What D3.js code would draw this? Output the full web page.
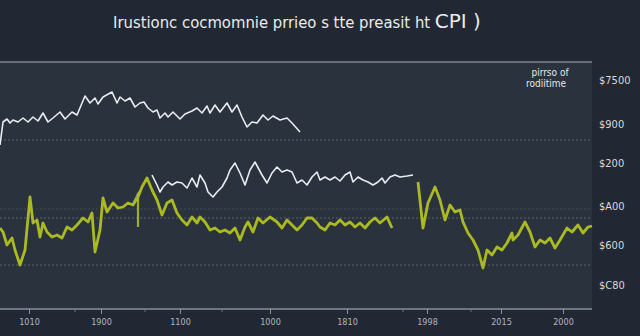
<!DOCTYPE html>
<html><head><meta charset="utf-8">
<script src="https://cdn.jsdelivr.net/npm/d3@7/dist/d3.min.js"></script>
<style>html,body{margin:0;padding:0;background:#212833;}svg{display:block}</style>
</head><body><svg id="c" width="640" height="336"></svg>
<script>
const titleMain = "Irustionc cocmomnie prrieo s tte preasit ht ";
const titleTail = "CPI )";
const legendLines = ["pirrso of", "rodiitime"];
const yTickValues = [230, 186, 147, 104, 65, 25];
const yTickLabels = ["$7500", "$900", "$200", "$A00", "$600", "$C80"];
const xTickValues = [14.5, 50.5, 90, 135, 173.5, 213.5, 250.5, 281.5];
const xTickLabels = ["1010", "1900", "1100", "1000", "1810", "1998", "2015", "2000"];
const xMinorTicks = [37.5, 72.5, 111, 201.5, 235.5];
const gridValues = [170, 101, 92, 45];

const whiteUpper = [[0,165],[1.5,188],[3.5,191],[5,187],[6.5,190],[9,188],[11.5,192],[14,188],[16.5,193],[19,189],[21.5,197],[24,188],[26.5,192],[30,198],[32.5,191],[36,198],[38.5,195],[42.5,214],[45,207],[47.5,212],[49,206],[51.5,213],[56,218],[58.5,207],[60,213],[62.5,209],[65,212],[67.5,203],[70,207],[72,208],[74,202],[76.5,198],[78.5,200],[80,192],[82.5,197],[84,193],[86.5,198],[90,191],[92.5,196],[96,199],[98.5,202],[101,197],[103.5,204],[105,197],[107.5,205],[110,198],[113.5,207],[116,198],[118.5,205],[121,193],[123.5,183],[126,188],[128.5,187],[131.5,195],[134,190],[136.5,194],[140,190],[143.5,192],[146,187],[150,178]];
const whiteMiddle = [[76,135],[78.5,125],[80,118],[81.5,123],[84,128],[86,125],[88.5,128],[91,127],[93.5,122],[96,132],[98.5,123],[100,135],[102.5,127],[104,118],[106.5,113],[108.5,118],[111,123],[113.5,132],[115,140],[117.5,147],[120,137],[122.5,125],[125,140],[127.5,148],[131,135],[133.5,127],[136,137],[138.5,143],[141,138],[143.5,140],[146,138],[148.5,127],[151,130],[153.5,125],[156,133],[158.5,138],[160,130],[162.5,133],[165,130],[167.5,133],[170,129],[172.5,135],[175,138],[176.5,128],[179,133],[181.5,130],[184,128],[186.5,125],[189,128],[191,132],[192.5,127],[195,133],[197.5,135],[200,133],[203.5,134],[206.5,135]];
const whiteFragment = [[66.5,107],[69,117],[71,122]];
const greenA = [[0,82],[1.5,78],[3.5,65],[6,72],[7.5,60],[10,45],[12.5,60],[15,113],[16.5,87],[18.5,90],[20,73],[21.5,87],[23.5,78],[26,73],[28.5,75],[31,72],[33.5,83],[36,80],[38.5,85],[41.5,92],[44,88],[46,97],[47.5,58],[50,80],[51.5,112],[53.5,98],[56.5,107],[59,102],[61.5,103],[64,107],[66.5,105],[69,113],[71,123],[73.5,132],[76,120],[78.5,110],[81,95],[83.5,107],[86,110],[88.5,97],[91,90],[93.5,85],[96,93],[98.5,87],[100,93],[102.5,88],[105,80],[107.5,82],[110,78],[112.5,80],[115,77],[117.5,82],[120,70],[122.5,83],[124,88],[126.5,78],[129,92],[131.5,87],[135,93],[138.5,88],[141,82],[143.5,90],[146,85],[148.5,80],[151,85],[153.5,92],[156,92],[158.5,87],[160,83],[162.5,80],[165,87],[167.5,85],[170,90],[172.5,85],[175,88],[177.5,83],[180,87],[182.5,82],[185,88],[187.5,92],[190,87],[193.5,93],[196,82]];
const greenStroke = [[69,117],[69,83]];
const greenB = [[209,128],[211.5,82],[214,107],[217.5,123],[220,110],[222.5,90],[225,105],[227.5,98],[230,100],[231.5,88],[234,77],[236.5,70],[239,60],[241.5,42],[243.5,60],[246,55],[248.5,63],[251,60],[253.5,67],[256,77],[256.5,70],[259,75],[262.5,88],[265,78],[267.5,63],[270,70],[272.5,67],[275,72],[277.5,62],[280,70],[283.5,82],[286,78],[289,85],[291.5,77],[294,83],[296,84]];

const svg = d3.select("#c");
const W = 640, H = 336;
const plotL = 0, plotR = 592, plotT = 62, plotB = 309;
const x = d3.scaleLinear().domain([0, 296]).range([plotL, plotR]);
const y = d3.scaleLinear().domain([0, 250]).range([310, 60]);

svg.append("rect").attr("width", W).attr("height", H).attr("fill", "#212833");
svg.append("rect").attr("x", plotL).attr("y", plotT).attr("width", plotR - plotL).attr("height", plotB - plotT).attr("fill", "#2a323d");

// grid
svg.append("g").selectAll("line").data(gridValues).join("line")
  .attr("x1", plotL).attr("x2", plotR).attr("y1", d => y(d)).attr("y2", d => y(d))
  .attr("stroke", "#5d6672").attr("stroke-width", 1).attr("stroke-dasharray", "2,2")
  .attr("opacity", (d, i) => i === 1 ? 0.5 : 0.9);

// top border
svg.append("line").attr("x1", plotL).attr("x2", plotR).attr("y1", plotT).attr("y2", plotT)
  .attr("stroke", "#7d848e").attr("stroke-width", 1.5);

// x axis
const xAxis = d3.axisBottom(x).tickValues(xTickValues).tickSize(5)
  .tickFormat((d, i) => xTickLabels[i]);
const gx = svg.append("g").attr("transform", `translate(0,${plotB})`).call(xAxis);
gx.select(".domain").attr("stroke", "#8a919b").attr("stroke-width", 1.5).attr("d", `M${plotL},0H${plotR}`);
gx.selectAll(".tick line").attr("stroke", "#8a919b");
gx.selectAll(".tick text").attr("fill", "#b0b5bc").attr("font-size", 9)
  .attr("font-family", "'DejaVu Sans Condensed', 'Liberation Sans Narrow', sans-serif").attr("dy", "0.9em");
svg.append("g").attr("transform", `translate(0,${plotB})`)
  .selectAll("line").data(xMinorTicks).join("line")
  .attr("x1", d => x(d)).attr("x2", d => x(d)).attr("y1", 0).attr("y2", 3)
  .attr("stroke", "#6f7680");

// y labels on right
const yAxis = d3.axisRight(y).tickValues(yTickValues).tickSize(0).tickFormat((d, i) => yTickLabels[i]);
const gy = svg.append("g").attr("transform", `translate(${plotR + 4},0)`).call(yAxis);
gy.select(".domain").remove();
gy.selectAll(".tick text").attr("fill", "#d6d9de").attr("font-size", 11)
  .attr("font-family", "'DejaVu Sans Condensed', 'Liberation Sans Narrow', sans-serif");

// lines
const line = d3.line().x(d => x(d[0])).y(d => y(d[1]));
function draw(data, color, w, op) {
  svg.append("path").datum(data).attr("d", line).attr("fill", "none")
    .attr("stroke", color).attr("stroke-width", w).attr("stroke-linejoin", "round")
    .attr("opacity", op || 1);
}
draw(whiteUpper, "#e9ecef", 1.6);
draw(whiteFragment, "#d8dce0", 1.2, 0.6);
draw(whiteMiddle, "#e9ecef", 1.6);
draw(greenA, "#abba22", 2.8);
draw(greenStroke, "#abba22", 2.2, 0.9);
draw(greenB, "#abba22", 2.8);

// title
const t = svg.append("text").attr("x", 297).attr("y", 28).attr("text-anchor", "middle")
  .attr("fill", "#ebebeb").attr("font-family", "'DejaVu Sans Condensed', 'Liberation Sans Narrow', sans-serif");
t.append("tspan").attr("font-size", 16.5).text(titleMain);
t.append("tspan").attr("font-size", 20).attr("font-family", "'DejaVu Sans', sans-serif").text(titleTail);

// legend text
svg.append("g").selectAll("text").data(legendLines).join("text")
  .attr("x", (d, i) => i === 0 ? 550 : 546).attr("y", (d, i) => 76 + i * 11)
  .attr("text-anchor", "middle").attr("fill", "#e6e6e6").attr("font-size", 10)
  .attr("font-family", "'DejaVu Sans Condensed', sans-serif").text(d => d);
</script></body></html>
